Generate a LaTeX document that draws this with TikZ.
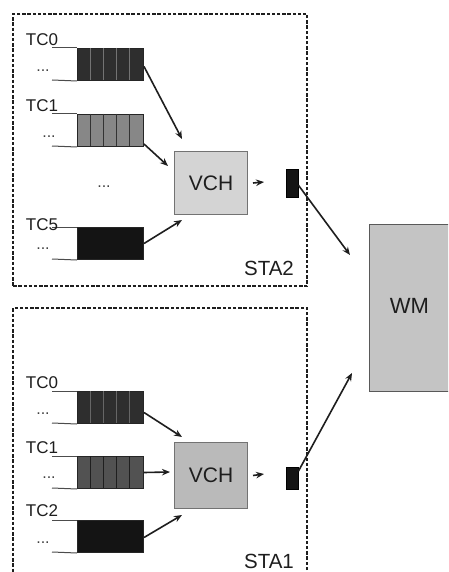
\documentclass[tikz,border=0pt]{standalone}
\usepackage{fontspec}
\setmainfont{Liberation Sans}
\usetikzlibrary{arrows.meta,calc}
\definecolor{ink}{HTML}{1E1E1E}
\begin{document}
\begin{tikzpicture}[x=1pt,y=-1pt,
  sta/.style={draw=ink, line width=2.2pt, dash pattern=on 3.4pt off 1.8pt},
  queue/.style={draw=black!85, line width=1pt, minimum width=66pt, minimum height=32pt, inner sep=0pt, anchor=north west},
  qline/.style={draw=black!70, line width=1pt},
  tclabel/.style={inner sep=0pt, text=ink, font=\fontsize{17}{18}\selectfont},
  dotlabel/.style={inner sep=0pt, text=black!75, font=\fontsize{16}{17}\selectfont},
  vchbox/.style={draw=black!55, line width=1pt, minimum width=73pt, inner sep=0pt, anchor=north west, text=ink, font=\fontsize{21}{22}\selectfont},
  outbox/.style={draw=black, fill=black!92, minimum width=12pt, inner sep=0pt, anchor=north west},
  stalabel/.style={inner sep=0pt, text=ink, font=\fontsize{20.5}{22}\selectfont},
  arr/.style={draw=ink, line width=1.6pt, -{Stealth[length=8pt,width=6.5pt]}},
]
\clip (0,0) rectangle (448,572);
\fill[white] (0,0) rectangle (448,572);

% ---------------- STA2 ----------------
\node[sta, minimum width=294pt, minimum height=272pt, anchor=north west, inner sep=0pt] (sta2) at (12,13) {};

\node[queue, fill=black!82] (q20) at (77,48) {};
\foreach \i in {1,...,4} \draw[black!55, line width=0.9pt] (77+13.2*\i,48) -- (77+13.2*\i,80);
\node[queue, fill=black!47] (q21) at (77,114) {};
\foreach \i in {1,...,4} \draw[black!80, line width=0.9pt] (77+13.2*\i,114) -- (77+13.2*\i,146);
\node[queue, fill=black!92] (q25) at (77,227) {};

\draw[qline] (52,48) -- (q20.north west);
\draw[qline] (52,80) -- (q20.south west);
\draw[qline] (52,114) -- (q21.north west);
\draw[qline] (52,146) -- (q21.south west);
\draw[qline] (52,227) -- (q25.north west);
\draw[qline] (52,259) -- (q25.south west);

\node[tclabel] (t20) at (42,40) {TC0};
\node[dotlabel] (d20) at (43,71) {...};
\node[tclabel] (t21) at (42,106) {TC1};
\node[dotlabel] (d21) at (49,137) {...};
\node[dotlabel] (dmid) at (104,187) {...};
\node[tclabel] (t25) at (42,225) {TC5};
\node[dotlabel] (d25) at (43,249) {...};

\node[vchbox, fill=black!17, minimum height=63pt] (vch2) at (174,151) {VCH};
\node[outbox, minimum height=28pt] (o2) at (286,169) {};
\node[stalabel] (s2) at (269,268) {STA2};

\coordinate (e20) at (182,139);
\coordinate (e21) at (168,166);
\coordinate (e25) at (182,220);
\coordinate (e2o) at (264,182);
\draw[arr] ($(q20.east)+(0,2)$) -- (e20);
\draw[arr] ($(q21.south east)+(0,-3)$) -- (e21);
\draw[arr] ($(q25.east)$) -- (e25);
\draw[arr] ($(vch2.east)+(5,0)$) -- (e2o);

% ---------------- STA1 ----------------
\node[sta, minimum width=294pt, minimum height=280pt, anchor=north west, inner sep=0pt] (sta1) at (12,307) {};

\node[queue, fill=black!82] (q10) at (77,391) {};
\foreach \i in {1,...,4} \draw[black!60, line width=0.9pt] (77+13.2*\i,391) -- (77+13.2*\i,423);
\node[queue, fill=black!68] (q11) at (77,456) {};
\foreach \i in {1,...,4} \draw[black!88, line width=0.9pt] (77+13.2*\i,456) -- (77+13.2*\i,488);
\node[queue, fill=black!92] (q12) at (77,520) {};

\draw[qline] (52,391) -- (q10.north west);
\draw[qline] (52,423) -- (q10.south west);
\draw[qline] (52,456) -- (q11.north west);
\draw[qline] (52,488) -- (q11.south west);
\draw[qline] (52,520) -- (q12.north west);
\draw[qline] (52,552) -- (q12.south west);

\node[tclabel] (t10) at (42,383) {TC0};
\node[dotlabel] (d10) at (43,414) {...};
\node[tclabel] (t11) at (42,448) {TC1};
\node[dotlabel] (d11) at (49,478) {...};
\node[tclabel] (t12) at (42,511) {TC2};
\node[dotlabel] (d12) at (43,543) {...};

\node[vchbox, fill=black!27, minimum height=66pt] (vch1) at (174,442) {VCH};
\node[outbox, minimum height=22pt] (o1) at (286,467) {};
\node[stalabel] (s1) at (269,561) {STA1};

\coordinate (e10) at (182,437);
\coordinate (e11) at (170,472);
\coordinate (e12) at (182,515);
\coordinate (e1o) at (264,474);
\draw[arr] ($(q10.east)+(0,5)$) -- (e10);
\draw[arr] ($(q11.east)$) -- (e11);
\draw[arr] ($(q12.east)+(0,1)$) -- (e12);
\draw[arr] ($(vch1.east)+(5,0)$) -- (e1o);

% ---------------- WM ----------------
\node[draw=black!65, line width=1pt, fill=black!23, minimum width=80pt, minimum height=167pt, inner sep=0pt, anchor=north west, text=ink, font=\fontsize{22}{24}\selectfont] (wm) at (369,224) {\raisebox{5pt}{WM}};

\coordinate (ew2) at (350,255);
\coordinate (ew1) at (352,373);
\draw[arr] ($(o2.east)+(0,2)$) -- (ew2);
\draw[arr] ($(o1.east)+(0,-7)$) -- (ew1);
\end{tikzpicture}
\end{document}
